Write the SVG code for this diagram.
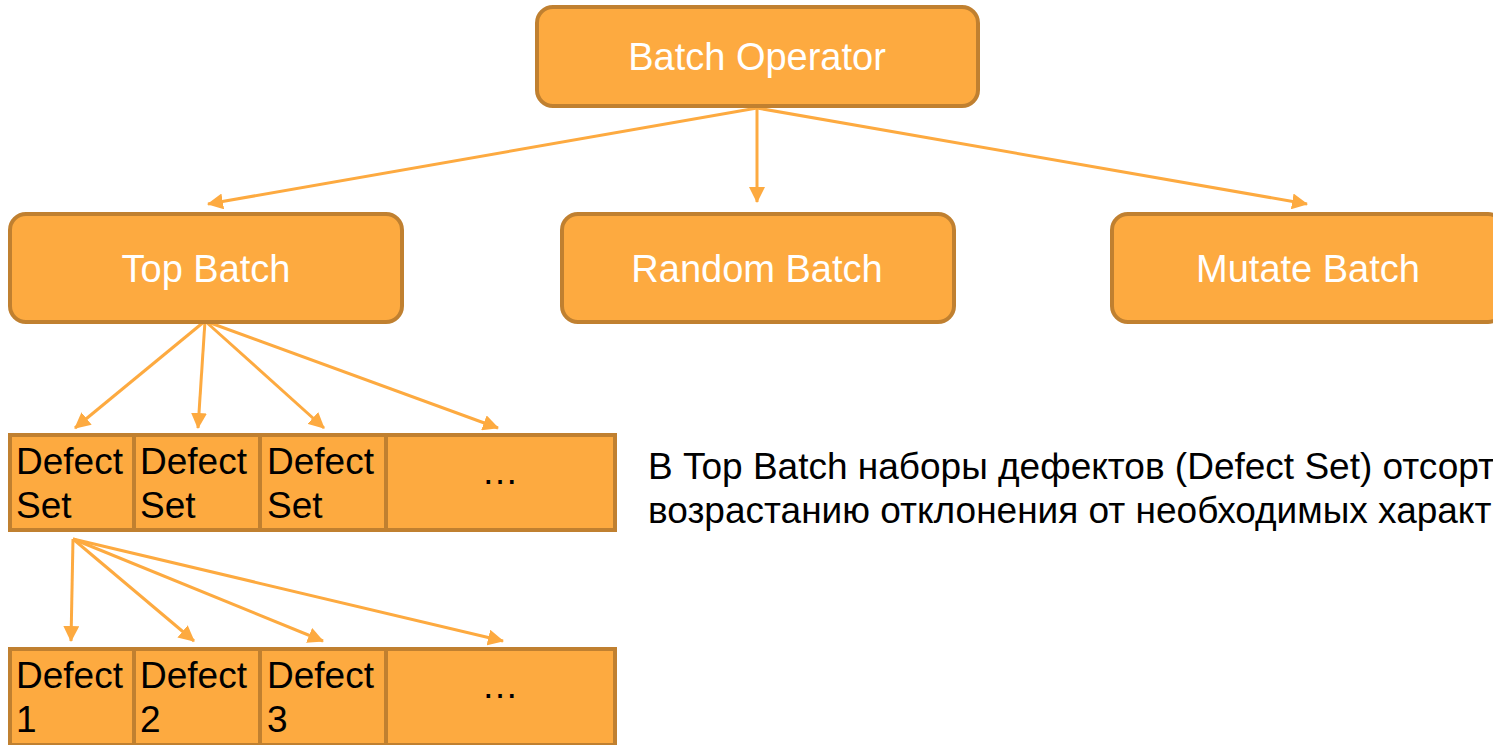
<svg xmlns="http://www.w3.org/2000/svg" width="1493" height="745" viewBox="0 0 1493 745">
<style>
.box{fill:#FDAA40;stroke:#C08030;stroke-width:4}
.cell{fill:#FDAA40;stroke:#C08030;stroke-width:4}
.lbl{font-size:38px;fill:#FFFFFF;text-anchor:middle}
.ct{font-size:37px;fill:#000000}
.note{font-size:37px;fill:#000000}
.con{stroke:#FDAA40;stroke-width:3;fill:none;marker-end:url(#ah)}
</style>
<defs>
<marker id="ah" markerUnits="userSpaceOnUse" markerWidth="16" markerHeight="16" refX="15" refY="8" orient="auto">
<path d="M0,0 L16,8 L0,16 Z" fill="#FDAA40"/>
</marker>
</defs>
<rect width="1493" height="745" fill="#FFFFFF"/>
<g id="connectors">
<line class="con" x1="757" y1="108" x2="208" y2="204"/>
<line class="con" x1="757" y1="108" x2="757" y2="202"/>
<line class="con" x1="757" y1="108" x2="1307" y2="204"/>
<line class="con" x1="205" y1="321" x2="75" y2="428"/>
<line class="con" x1="205" y1="321" x2="198" y2="428"/>
<line class="con" x1="205" y1="321" x2="324" y2="428"/>
<line class="con" x1="205" y1="321" x2="498" y2="428"/>
<line class="con" x1="73" y1="539" x2="71" y2="641"/>
<line class="con" x1="73" y1="539" x2="194" y2="641"/>
<line class="con" x1="73" y1="539" x2="323" y2="641"/>
<line class="con" x1="73" y1="539" x2="503" y2="641"/>
</g>
<g id="batch-operator" font-family="Liberation Sans, Arial, sans-serif">
<rect class="box" x="537" y="7" width="441" height="99" rx="16"/>
<text class="lbl" x="757" y="70">Batch Operator</text>
</g>
<g id="top-batch" font-family="Liberation Sans, Arial, sans-serif">
<rect class="box" x="10" y="214" width="392" height="108" rx="16"/>
<text class="lbl" x="206" y="282">Top Batch</text>
</g>
<g id="random-batch" font-family="Liberation Sans, Arial, sans-serif">
<rect class="box" x="562" y="214" width="392" height="108" rx="16"/>
<text class="lbl" x="757" y="282">Random Batch</text>
</g>
<g id="mutate-batch" font-family="Liberation Sans, Arial, sans-serif">
<rect class="box" x="1112" y="214" width="392" height="108" rx="16"/>
<text class="lbl" x="1308" y="282">Mutate Batch</text>
</g>
<g id="defect-sets" font-family="Liberation Sans, Arial, sans-serif">
<rect class="cell" x="10" y="435" width="124" height="95"/>
<rect class="cell" x="134" y="435" width="126" height="95"/>
<rect class="cell" x="260" y="435" width="126" height="95"/>
<rect class="cell" x="386" y="435" width="229" height="95"/>
<text class="ct" x="16" y="474">Defect</text>
<text class="ct" x="16" y="518">Set</text>
<text class="ct" x="140" y="474">Defect</text>
<text class="ct" x="140" y="518">Set</text>
<text class="ct" x="267" y="474">Defect</text>
<text class="ct" x="267" y="518">Set</text>
<text class="ct" x="500" y="484" text-anchor="middle">…</text>
</g>
<g id="defects" font-family="Liberation Sans, Arial, sans-serif">
<rect class="cell" x="10" y="649" width="124" height="96"/>
<rect class="cell" x="134" y="649" width="126" height="96"/>
<rect class="cell" x="260" y="649" width="126" height="96"/>
<rect class="cell" x="386" y="649" width="229" height="96"/>
<text class="ct" x="16" y="688">Defect</text>
<text class="ct" x="16" y="732">1</text>
<text class="ct" x="140" y="688">Defect</text>
<text class="ct" x="140" y="732">2</text>
<text class="ct" x="267" y="688">Defect</text>
<text class="ct" x="267" y="732">3</text>
<text class="ct" x="500" y="698" text-anchor="middle">…</text>
</g>
<g id="note" font-family="Liberation Sans, Arial, sans-serif">
<text class="note" x="648" y="479">В Top Batch наборы дефектов (Defect Set) отсорт</text>
<text class="note" x="648" y="523">возрастанию отклонения от необходимых характ</text>
</g>
</svg>
